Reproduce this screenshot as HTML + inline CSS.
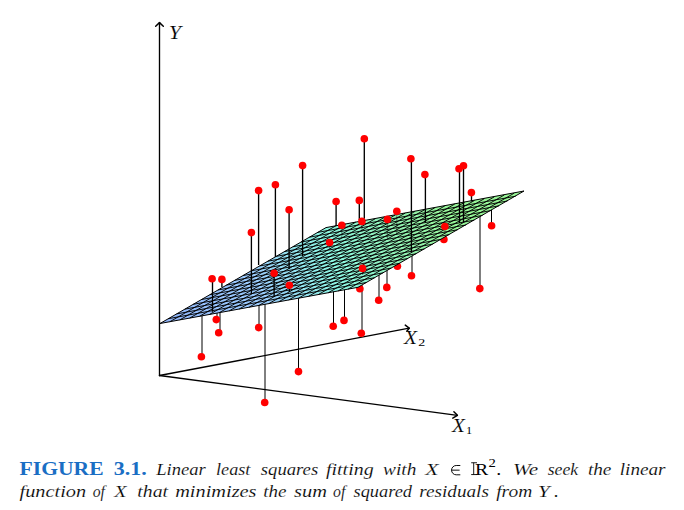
<!DOCTYPE html>
<html><head><meta charset="utf-8"><style>
html,body{margin:0;padding:0;background:#fff;}
body{width:684px;height:510px;overflow:hidden;position:relative;}
svg{position:absolute;left:0;top:0;}
</style></head><body>
<svg width="684" height="510" viewBox="0 0 684 510">
<defs>
<linearGradient id="pg" gradientUnits="userSpaceOnUse" x1="160.0" y1="323.5" x2="524.0" y2="191.0">
<stop offset="0" stop-color="#90b4fa"/>
<stop offset="0.27" stop-color="#9acafb"/>
<stop offset="0.47" stop-color="#8cf5e2"/>
<stop offset="0.66" stop-color="#92f0b0"/>
<stop offset="0.8" stop-color="#96f598"/>
<stop offset="1" stop-color="#98f596"/>
</linearGradient>
</defs>

<line x1="159.50" y1="375.50" x2="159.50" y2="22.60" stroke="#000" stroke-width="1.35" fill="none" stroke-linecap="round" stroke-linejoin="round"/><polyline points="155.68,26.20 159.50,22.60 163.32,26.20" stroke="#000" stroke-width="1.45" fill="none" stroke-linecap="round" stroke-linejoin="round"/>
<line x1="159.50" y1="375.50" x2="409.21" y2="328.19" stroke="#000" stroke-width="1.35" fill="none" stroke-linecap="round" stroke-linejoin="round"/><polyline points="405.26,325.11 409.21,328.19 406.77,331.29" stroke="#000" stroke-width="1.45" fill="none" stroke-linecap="round" stroke-linejoin="round"/>
<line x1="159.50" y1="375.50" x2="457.40" y2="415.33" stroke="#000" stroke-width="1.35" fill="none" stroke-linecap="round" stroke-linejoin="round"/><polyline points="453.90,411.67 457.40,415.33 452.78,418.23" stroke="#000" stroke-width="1.45" fill="none" stroke-linecap="round" stroke-linejoin="round"/>
<line x1="491.50" y1="225.70" x2="491.50" y2="205.00" stroke="#000" stroke-width="1"/>
<line x1="397.40" y1="266.20" x2="397.40" y2="255.00" stroke="#000" stroke-width="1"/>
<line x1="412.00" y1="275.70" x2="412.00" y2="250.00" stroke="#000" stroke-width="1"/>
<line x1="379.00" y1="300.30" x2="379.00" y2="270.00" stroke="#000" stroke-width="1"/>
<line x1="387.00" y1="287.40" x2="387.00" y2="265.00" stroke="#000" stroke-width="1"/>
<line x1="359.90" y1="288.80" x2="359.90" y2="280.00" stroke="#000" stroke-width="1"/>
<line x1="480.00" y1="288.60" x2="480.00" y2="210.00" stroke="#000" stroke-width="1"/>
<line x1="217.00" y1="319.60" x2="217.00" y2="305.00" stroke="#000" stroke-width="1"/>
<line x1="220.00" y1="332.80" x2="220.00" y2="305.00" stroke="#000" stroke-width="1"/>
<line x1="202.00" y1="356.70" x2="202.00" y2="305.00" stroke="#000" stroke-width="1"/>
<line x1="259.00" y1="327.60" x2="259.00" y2="300.00" stroke="#000" stroke-width="1"/>
<line x1="333.50" y1="326.30" x2="333.50" y2="285.00" stroke="#000" stroke-width="1"/>
<line x1="344.50" y1="320.40" x2="344.50" y2="285.00" stroke="#000" stroke-width="1"/>
<line x1="362.00" y1="333.20" x2="362.00" y2="285.00" stroke="#000" stroke-width="1"/>
<line x1="298.50" y1="371.60" x2="298.50" y2="290.00" stroke="#000" stroke-width="1"/>
<line x1="265.00" y1="402.50" x2="265.00" y2="298.00" stroke="#000" stroke-width="1"/>
<line x1="443.90" y1="239.40" x2="443.90" y2="230.00" stroke="#000" stroke-width="1"/>
<circle cx="491.60" cy="225.70" r="3.80" fill="#f00"/>
<circle cx="397.40" cy="266.20" r="3.80" fill="#f00"/>
<circle cx="411.50" cy="275.70" r="3.80" fill="#f00"/>
<circle cx="378.70" cy="300.30" r="3.80" fill="#f00"/>
<circle cx="386.80" cy="287.40" r="3.80" fill="#f00"/>
<circle cx="359.90" cy="288.80" r="3.80" fill="#f00"/>
<circle cx="479.80" cy="288.60" r="3.80" fill="#f00"/>
<circle cx="216.30" cy="319.60" r="3.80" fill="#f00"/>
<circle cx="218.70" cy="332.80" r="3.80" fill="#f00"/>
<circle cx="201.40" cy="356.70" r="3.80" fill="#f00"/>
<circle cx="258.70" cy="327.60" r="3.80" fill="#f00"/>
<circle cx="333.20" cy="326.30" r="3.80" fill="#f00"/>
<circle cx="344.00" cy="320.40" r="3.80" fill="#f00"/>
<circle cx="361.30" cy="333.20" r="3.80" fill="#f00"/>
<circle cx="298.50" cy="371.60" r="3.80" fill="#f00"/>
<circle cx="264.70" cy="402.50" r="3.80" fill="#f00"/>
<circle cx="443.90" cy="239.40" r="3.80" fill="#f00"/>
<polygon points="160.0,323.5 326.0,227.6 524.0,191.0 358.0,287.3" fill="url(#pg)" stroke="#000" stroke-width="1.0" stroke-linejoin="round"/>
<path d="M169.90 321.69L335.90 225.79M179.80 319.88L345.80 223.98M189.70 318.07L355.70 222.17M199.60 316.26L365.60 220.36M209.50 314.45L375.50 218.55M219.40 312.64L385.40 216.74M229.30 310.83L395.30 214.93M239.20 309.02L405.20 213.12M249.10 307.21L415.10 211.31M259.00 305.40L425.00 209.50M268.90 303.59L434.90 207.69M278.80 301.78L444.80 205.88M288.70 299.97L454.70 204.07M298.60 298.16L464.60 202.26M308.50 296.35L474.50 200.45M318.40 294.54L484.40 198.64M328.30 292.73L494.30 196.83M338.20 290.92L504.20 195.02M348.10 289.11L514.10 193.21" stroke="#000" stroke-width="0.95" fill="none"/>
<path d="M168.30 318.70L366.30 282.50M176.60 313.91L374.60 277.71M184.90 309.12L382.90 272.92M193.20 304.32L391.20 268.12M201.50 299.52L399.50 263.32M209.80 294.73L407.80 258.53M218.10 289.94L416.10 253.74M226.40 285.14L424.40 248.94M234.70 280.35L432.70 244.15M243.00 275.55L441.00 239.35M251.30 270.75L449.30 234.56M259.60 265.96L457.60 229.76M267.90 261.16L465.90 224.97M276.20 256.37L474.20 220.17M284.50 251.57L482.50 215.38M292.80 246.78L490.80 210.58M301.10 241.99L499.10 205.79M309.40 237.19L507.40 200.99M317.70 232.39L515.70 196.19" stroke="#000" stroke-width="0.95" fill="none"/>
<line x1="364.30" y1="138.70" x2="364.30" y2="218.70" stroke="#000" stroke-width="1.35"/>
<line x1="302.60" y1="165.60" x2="302.60" y2="256.00" stroke="#000" stroke-width="1.35"/>
<line x1="411.40" y1="158.70" x2="411.40" y2="252.00" stroke="#000" stroke-width="1.35"/>
<line x1="425.40" y1="174.60" x2="425.40" y2="222.00" stroke="#000" stroke-width="1.35"/>
<line x1="459.50" y1="168.80" x2="459.50" y2="223.00" stroke="#000" stroke-width="1.35"/>
<line x1="463.50" y1="165.70" x2="463.50" y2="222.00" stroke="#000" stroke-width="1.35"/>
<line x1="275.40" y1="184.70" x2="275.40" y2="257.00" stroke="#000" stroke-width="1.35"/>
<line x1="258.60" y1="190.60" x2="258.60" y2="265.00" stroke="#000" stroke-width="1.35"/>
<line x1="289.10" y1="209.70" x2="289.10" y2="269.00" stroke="#000" stroke-width="1.35"/>
<line x1="336.10" y1="201.50" x2="336.10" y2="226.00" stroke="#000" stroke-width="1.35"/>
<line x1="359.30" y1="200.40" x2="359.30" y2="220.00" stroke="#000" stroke-width="1.35"/>
<line x1="471.50" y1="192.60" x2="471.50" y2="201.50" stroke="#000" stroke-width="1.35"/>
<line x1="251.40" y1="232.60" x2="251.40" y2="294.00" stroke="#000" stroke-width="1.35"/>
<line x1="341.80" y1="225.30" x2="341.80" y2="238.00" stroke="#000" stroke-width="1.35" stroke-opacity="0.35"/>
<line x1="361.90" y1="221.40" x2="361.90" y2="232.00" stroke="#000" stroke-width="1.35" stroke-opacity="0.35"/>
<line x1="396.80" y1="211.30" x2="396.80" y2="234.00" stroke="#000" stroke-width="1.35" stroke-opacity="0.35"/>
<line x1="387.40" y1="219.40" x2="387.40" y2="239.00" stroke="#000" stroke-width="1.35" stroke-opacity="0.35"/>
<line x1="329.60" y1="242.50" x2="329.60" y2="250.00" stroke="#000" stroke-width="1.35" stroke-opacity="0.35"/>
<line x1="444.90" y1="226.50" x2="444.90" y2="234.00" stroke="#000" stroke-width="1.35" stroke-opacity="0.35"/>
<line x1="212.50" y1="278.70" x2="212.50" y2="311.80" stroke="#000" stroke-width="1.35"/>
<line x1="221.90" y1="279.40" x2="221.90" y2="287.00" stroke="#000" stroke-width="1.35"/>
<line x1="274.10" y1="273.20" x2="274.10" y2="297.00" stroke="#000" stroke-width="1.35"/>
<line x1="289.40" y1="285.30" x2="289.40" y2="292.00" stroke="#000" stroke-width="1.35"/>
<line x1="362.50" y1="268.40" x2="362.50" y2="275.00" stroke="#000" stroke-width="1.35" stroke-opacity="0.35"/>
<circle cx="364.30" cy="138.70" r="3.80" fill="#f00"/>
<circle cx="302.60" cy="165.60" r="3.80" fill="#f00"/>
<circle cx="410.90" cy="158.70" r="3.80" fill="#f00"/>
<circle cx="424.90" cy="174.60" r="3.80" fill="#f00"/>
<circle cx="459.00" cy="168.80" r="3.80" fill="#f00"/>
<circle cx="463.50" cy="165.70" r="3.80" fill="#f00"/>
<circle cx="275.40" cy="184.70" r="3.80" fill="#f00"/>
<circle cx="258.60" cy="190.60" r="3.80" fill="#f00"/>
<circle cx="289.10" cy="209.70" r="3.80" fill="#f00"/>
<circle cx="336.10" cy="201.50" r="3.80" fill="#f00"/>
<circle cx="359.30" cy="200.40" r="3.80" fill="#f00"/>
<circle cx="471.40" cy="192.60" r="3.80" fill="#f00"/>
<circle cx="251.40" cy="232.60" r="3.80" fill="#f00"/>
<circle cx="341.80" cy="225.30" r="3.80" fill="#f00"/>
<circle cx="361.90" cy="221.40" r="3.80" fill="#f00"/>
<circle cx="396.80" cy="211.30" r="3.80" fill="#f00"/>
<circle cx="387.40" cy="219.40" r="3.80" fill="#f00"/>
<circle cx="329.60" cy="242.50" r="3.80" fill="#f00"/>
<circle cx="444.90" cy="226.50" r="3.80" fill="#f00"/>
<circle cx="212.10" cy="278.70" r="3.80" fill="#f00"/>
<circle cx="221.90" cy="279.40" r="3.80" fill="#f00"/>
<circle cx="274.10" cy="273.20" r="3.80" fill="#f00"/>
<circle cx="289.40" cy="285.30" r="3.80" fill="#f00"/>
<circle cx="362.50" cy="268.40" r="3.80" fill="#f00"/>
<g font-family="Liberation Serif">
<text x="168.86" y="38.80" font-size="19.30" fill="#000" font-style="italic" stroke="#fff" stroke-width="0.15" textLength="12.32" lengthAdjust="spacingAndGlyphs">Y</text>
<text x="403.90" y="343.90" font-size="18.70" fill="#000" font-style="italic" stroke="#fff" stroke-width="0.15" textLength="13.03" lengthAdjust="spacingAndGlyphs">X</text>
<text x="418.36" y="345.60" font-size="11.30" fill="#000" textLength="6.99" lengthAdjust="spacingAndGlyphs">2</text>
<text x="451.99" y="431.90" font-size="18.70" fill="#000" font-style="italic" stroke="#fff" stroke-width="0.15" textLength="12.86" lengthAdjust="spacingAndGlyphs">X</text>
<text x="466.14" y="433.90" font-size="11.30" fill="#000" textLength="6.13" lengthAdjust="spacingAndGlyphs">1</text>
</g>
<g font-family="Liberation Serif">
<text x="19.56" y="474.80" font-size="18.00" fill="#1a6ec4" font-weight="bold" textLength="84.05" lengthAdjust="spacingAndGlyphs">FIGURE</text>
<text x="113.71" y="474.80" font-size="18.00" fill="#1a6ec4" font-weight="bold" textLength="32.97" lengthAdjust="spacingAndGlyphs">3.1.</text>
<text x="156.29" y="474.80" font-size="17.50" fill="#000" font-style="italic" stroke="#fff" stroke-width="0.15" textLength="49.49" lengthAdjust="spacingAndGlyphs">Linear</text>
<text x="216.05" y="474.80" font-size="17.50" fill="#000" font-style="italic" stroke="#fff" stroke-width="0.15" textLength="34.32" lengthAdjust="spacingAndGlyphs">least</text>
<text x="260.80" y="474.80" font-size="17.50" fill="#000" font-style="italic" stroke="#fff" stroke-width="0.15" textLength="57.36" lengthAdjust="spacingAndGlyphs">squares</text>
<text x="326.00" y="474.80" font-size="17.50" fill="#000" font-style="italic" stroke="#fff" stroke-width="0.15" textLength="47.61" lengthAdjust="spacingAndGlyphs">fitting</text>
<text x="383.00" y="474.80" font-size="17.50" fill="#000" font-style="italic" stroke="#fff" stroke-width="0.15" textLength="33.41" lengthAdjust="spacingAndGlyphs">with</text>
<text x="425.32" y="474.80" font-size="17.50" fill="#000" font-style="italic" stroke="#fff" stroke-width="0.15" textLength="13.29" lengthAdjust="spacingAndGlyphs">X</text>
<text x="488.54" y="467.30" font-size="12.50" fill="#000" textLength="7.35" lengthAdjust="spacingAndGlyphs">2</text>
<text x="496.35" y="474.80" font-size="17.50" fill="#000" textLength="5.00" lengthAdjust="spacingAndGlyphs">.</text>
<text x="513.08" y="474.80" font-size="17.50" fill="#000" font-style="italic" stroke="#fff" stroke-width="0.15" textLength="25.09" lengthAdjust="spacingAndGlyphs">We</text>
<text x="547.70" y="474.80" font-size="17.50" fill="#000" font-style="italic" stroke="#fff" stroke-width="0.15" textLength="30.46" lengthAdjust="spacingAndGlyphs">seek</text>
<text x="587.90" y="474.80" font-size="17.50" fill="#000" font-style="italic" stroke="#fff" stroke-width="0.15" textLength="23.52" lengthAdjust="spacingAndGlyphs">the</text>
<text x="619.80" y="474.80" font-size="17.50" fill="#000" font-style="italic" stroke="#fff" stroke-width="0.15" textLength="45.77" lengthAdjust="spacingAndGlyphs">linear</text>
<text x="19.50" y="496.90" font-size="17.50" fill="#000" font-style="italic" stroke="#fff" stroke-width="0.15" textLength="66.64" lengthAdjust="spacingAndGlyphs">function</text>
<text x="92.75" y="496.90" font-size="17.50" fill="#000" font-style="italic" stroke="#fff" stroke-width="0.15" textLength="12.23" lengthAdjust="spacingAndGlyphs">of</text>
<text x="114.24" y="496.90" font-size="17.50" fill="#000" font-style="italic" stroke="#fff" stroke-width="0.15" textLength="12.25" lengthAdjust="spacingAndGlyphs">X</text>
<text x="137.38" y="496.90" font-size="17.50" fill="#000" font-style="italic" stroke="#fff" stroke-width="0.15" textLength="30.73" lengthAdjust="spacingAndGlyphs">that</text>
<text x="175.16" y="496.90" font-size="17.50" fill="#000" font-style="italic" stroke="#fff" stroke-width="0.15" textLength="81.34" lengthAdjust="spacingAndGlyphs">minimizes</text>
<text x="263.21" y="496.90" font-size="17.50" fill="#000" font-style="italic" stroke="#fff" stroke-width="0.15" textLength="23.21" lengthAdjust="spacingAndGlyphs">the</text>
<text x="294.10" y="496.90" font-size="17.50" fill="#000" font-style="italic" stroke="#fff" stroke-width="0.15" textLength="32.91" lengthAdjust="spacingAndGlyphs">sum</text>
<text x="333.05" y="496.90" font-size="17.50" fill="#000" font-style="italic" stroke="#fff" stroke-width="0.15" textLength="12.31" lengthAdjust="spacingAndGlyphs">of</text>
<text x="353.50" y="496.90" font-size="17.50" fill="#000" font-style="italic" stroke="#fff" stroke-width="0.15" textLength="58.51" lengthAdjust="spacingAndGlyphs">squared</text>
<text x="419.30" y="496.90" font-size="17.50" fill="#000" font-style="italic" stroke="#fff" stroke-width="0.15" textLength="69.57" lengthAdjust="spacingAndGlyphs">residuals</text>
<text x="496.20" y="496.90" font-size="17.50" fill="#000" font-style="italic" stroke="#fff" stroke-width="0.15" textLength="36.08" lengthAdjust="spacingAndGlyphs">from</text>
<text x="538.02" y="496.90" font-size="17.50" fill="#000" font-style="italic" stroke="#fff" stroke-width="0.15" textLength="11.68" lengthAdjust="spacingAndGlyphs">Y</text>
<text x="554.08" y="496.90" font-size="17.50" fill="#000" font-style="italic" stroke="#fff" stroke-width="0.15" textLength="4.98" lengthAdjust="spacingAndGlyphs">.</text>
<text x="474.99" y="474.80" font-size="17.50" fill="#000" textLength="13.21" lengthAdjust="spacingAndGlyphs">R</text>
</g>
<path d="M460.3 465.5H456.2A4.65 4.65 0 0 0 456.2 474.8H460.3M451.4 470.15H459.6" stroke="#000" stroke-width="0.95" fill="none"/>
<path d="M473.7 462.7V474.6M471.2 462.75H477M471.2 474.55H477" stroke="#000" stroke-width="0.9" fill="none"/>
</svg></body></html>
